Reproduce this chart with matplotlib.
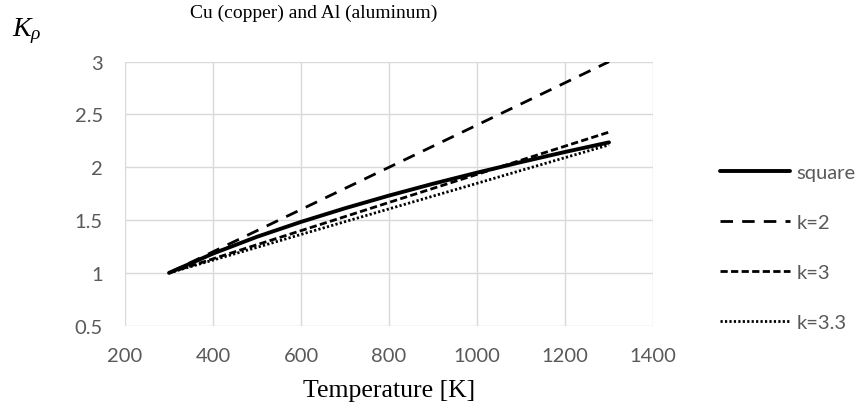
import matplotlib
matplotlib.use("Agg")
import matplotlib.pyplot as plt

# Data
temperature = [300, 400, 500, 600, 700, 800, 900, 1000, 1100, 1200, 1300]
square = [1.0, 1.183, 1.342, 1.483, 1.612, 1.732, 1.844, 1.949, 2.049, 2.145, 2.236]
k2 = [1.0, 1.2, 1.4, 1.6, 1.8, 2.0, 2.2, 2.4, 2.6, 2.8, 3.0]
k3 = [1.0, 1.133, 1.267, 1.4, 1.533, 1.667, 1.8, 1.933, 2.067, 2.2, 2.333]
k33 = [1.0, 1.121, 1.242, 1.364, 1.485, 1.606, 1.727, 1.848, 1.970, 2.091, 2.212]
series_labels = ["square", "k=2", "k=3", "k=3.3"]
x_ticks = [200, 400, 600, 800, 1000, 1200, 1400]
y_ticks = [0.5, 1, 1.5, 2, 2.5, 3]

plt.rcParams['mathtext.fontset'] = 'custom'
plt.rcParams['mathtext.rm'] = 'Liberation Serif'
plt.rcParams['mathtext.it'] = 'Liberation Serif:italic'

fig = plt.figure(figsize=(8.64, 4.14), dpi=100)
ax = fig.add_axes([0.1447, 0.2109, 0.6111, 0.6377])

ax.plot(temperature, square, color='black', lw=2.8, solid_capstyle='round', label=series_labels[0])
ax.plot(temperature, k2, color='black', lw=2.0, linestyle=(0, (4.5, 3.3)), label=series_labels[1])
ax.plot(temperature, k3, color='black', lw=2.0, linestyle=(0, (2.6, 1.2)), label=series_labels[2])
ax.plot(temperature, k33, color='black', lw=2.0, linestyle=(0, (0.8, 0.8)), label=series_labels[3])

ax.set_xlim(200, 1400)
ax.set_ylim(0.5, 3)
ax.set_xticks(x_ticks)
ax.set_yticks(y_ticks)
ax.set_yticklabels([f"{v:g}" for v in y_ticks])
ax.grid(True, color='#d9d9d9', lw=1.0)
ax.set_axisbelow(True)
for s in ax.spines.values():
    s.set_visible(False)
ax.tick_params(length=0, labelsize=14.5, labelcolor='#595959')
ax.tick_params(axis='y', pad=16)
ax.tick_params(axis='x', pad=15)
for lbl in ax.get_xticklabels() + ax.get_yticklabels():
    lbl.set_family(['Lato', 'DejaVu Sans'])

ax.set_xlabel("Temperature [K]", fontsize=18.5, family='Liberation Serif', labelpad=11)

fig.text(190 / 864, 1 - 13 / 414, "Cu (copper) and Al (aluminum)", fontsize=14,
         family='Liberation Serif', ha='left', va='center')
fig.text(12 / 864, 1 - 31 / 414, r"$K_\rho$", fontsize=20, ha='left', va='center')

leg = ax.legend(loc='center left', bbox_to_anchor=(720 / 864, 1 - 248.5 / 414),
                bbox_transform=fig.transFigure, frameon=False,
                handlelength=3.5, handletextpad=0.3, labelspacing=1.64,
                borderpad=0, borderaxespad=0, prop={'family': 'Lato', 'size': 14.5})
for t in leg.get_texts():
    t.set_color('#595959')

fig.savefig("out.png", dpi=100)
